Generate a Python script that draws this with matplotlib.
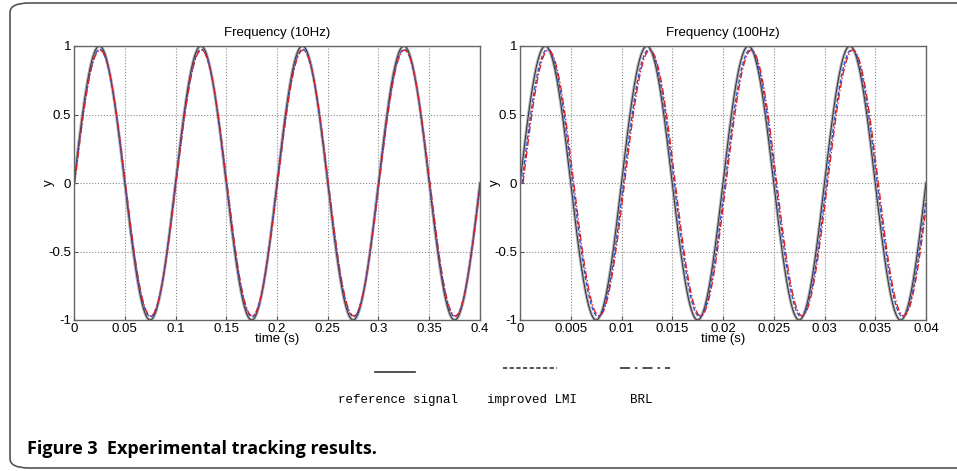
import numpy as np
import matplotlib.pyplot as plt
from matplotlib.patches import FancyBboxPatch

# values
panel_titles = ['Frequency (10Hz)', 'Frequency (100Hz)']
freqs = [10, 100]                      # Hz
t_end = [0.4, 0.04]
xticks = [[0, 0.05, 0.1, 0.15, 0.2, 0.25, 0.3, 0.35, 0.4],
          [0, 0.005, 0.01, 0.015, 0.02, 0.025, 0.03, 0.035, 0.04]]
xticklabels = [['0', '0.05', '0.1', '0.15', '0.2', '0.25', '0.3', '0.35', '0.4'],
               ['0', '0.005', '0.01', '0.015', '0.02', '0.025', '0.03', '0.035', '0.04']]
yticks = [-1, -0.5, 0, 0.5, 1]
yticklabels = ['-1', '-0.5', '0', '0.5', '1']

series = ['reference signal', 'improved LMI', 'BRL']
amp = [1.0, 0.975, 0.97]              # peak heights
lag10 = [0.0, 0.0003, 0.0006]         # s, delay behind reference (10Hz)
lag100 = [0.0, 0.0002, 0.0003]        # s, delay behind reference (100Hz)
lags = [lag10, lag100]

fig = plt.figure(figsize=(9.57, 4.71), dpi=100)
fig.patch.set_facecolor('white')

# rounded frame of the figure panel (right side runs off the picture)
box = FancyBboxPatch((10 / 957, 3 / 471), 1000 / 957, 465 / 471,
                     boxstyle='round,pad=0,rounding_size=0.02',
                     transform=fig.transFigure, fill=False,
                     edgecolor='#555555', linewidth=1.2, clip_on=False)
fig.patches.append(box)

tick_font = {'family': 'Liberation Sans', 'size': 9.5}
lefts = [74 / 957, 520 / 957]
for i in range(2):
    ax = fig.add_axes([lefts[i], 1 - 320 / 471, 406 / 957, 274 / 471])
    w = 2 * np.pi * freqs[i]
    t = np.linspace(0, t_end[i], 2000)
    ax.plot(t, amp[0] * np.sin(w * t), color='#b0b0b0', lw=2.2)
    ax.plot(t, amp[0] * np.sin(w * t), color='#333333', lw=0.7)
    t1 = np.linspace(lags[i][1], t_end[i], 2000)
    ax.plot(t1, amp[1] * np.sin(w * (t1 - lags[i][1])), color='#2a52d8', lw=1.0,
            ls=(0, (3, 1.5)))
    t2 = np.linspace(lags[i][2], t_end[i], 2000)
    ax.plot(t2, amp[2] * np.sin(w * (t2 - lags[i][2])), color='#e0202a', lw=1.0,
            ls=(0, (5, 1.5, 1, 1.5)))
    ax.set_xlim(0, t_end[i])
    ax.set_ylim(-1, 1)
    ax.set_xticks(xticks[i])
    ax.set_xticklabels(xticklabels[i], fontdict=tick_font)
    ax.set_yticks(yticks)
    ax.set_yticklabels(yticklabels, fontdict=tick_font)
    ax.tick_params(direction='in', length=3, pad=2, color='#555555')
    ax.grid(True, ls=':', color='#888888', lw=0.8)
    for s in ax.spines.values():
        s.set_color('#666666')
        s.set_linewidth(1.0)
    ax.set_title(panel_titles[i], fontdict=tick_font, pad=7)
    ax.set_xlabel('time (s)', fontdict=tick_font, labelpad=-1)
    ax.set_ylabel('y', fontdict=tick_font)
    ax.yaxis.set_label_coords(-0.048, 0.5)

# hand-made legend under the plots
leg_lines = [((375, 415), '-'), ((503, 557), (0, (2.5, 1.5))), ((620, 670), (0, (6, 3, 1.5, 3)))]
leg_label_x = [398, 532, 641]
for (xs, style), lx, name in zip(leg_lines, leg_label_x, series):
    y = 1 - (372 if style == '-' else 368) / 471
    fig.add_artist(plt.Line2D([xs[0] / 957, xs[1] / 957], [y, y],
                              transform=fig.transFigure, color='#333333',
                              lw=1.2, ls=style))
    fig.text(lx / 957, 1 - 400 / 471, name, ha='center', va='center',
             family='Liberation Mono', size=9)

fig.text(27 / 957, 1 - 449 / 471, 'Figure 3  Experimental tracking results.',
         ha='left', va='center', family='Open Sans', weight='bold', size=13)

fig.savefig('out.png', dpi=100)
